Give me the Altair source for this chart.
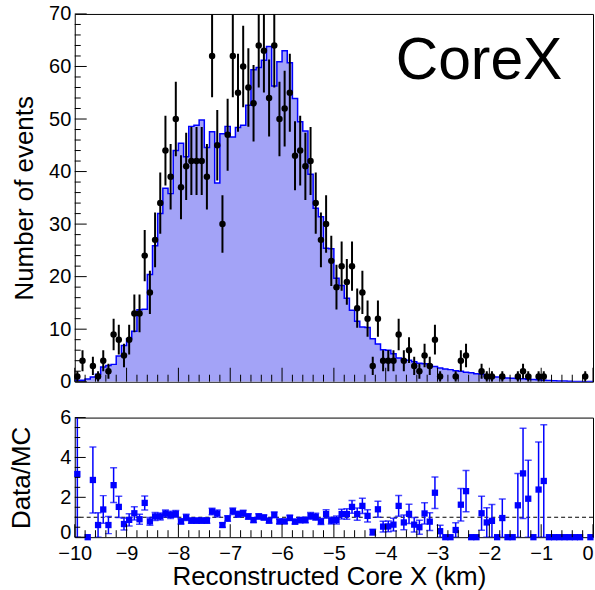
import altair as alt
import numpy as np
import pandas as pd

# 100 bins of 0.1 km between -10 and 0 km
X_MIN, X_MAX, N_BINS = -10.0, 0.0, 100
BIN_W = (X_MAX - X_MIN) / N_BINS
bin_centers = [round(X_MIN + BIN_W * (i + 0.5), 3) for i in range(N_BINS)]
bin_edges = [round(X_MIN + BIN_W * i, 3) for i in range(N_BINS + 1)]

# observed events per bin
data_counts = [
    1, 4, 0, 3, 1, 4, 2, 9, 8, 5,
    8, 13, 13, 24, 17, 27, 34, 44, 39, 50,
    37, 41, 42, 42, 42, 39, 62, 45, 30, 47,
    62, 55, 60, 56, 53, 64, 63, 54, 64, 50,
    52, 55, 43, 44, 41, 42, 34, 27, 30, 23,
    18, 22, 19, 22, 14, 17, 12, 3, 12, 4,
    4, 4, 9, 4, 6, 3, 2, 5, 3, 8,
    1, 0, 0, 1, 4, 5, 0, 0, 2, 1,
    1, 0, 1, 0, 0, 1, 2, 1, 0, 1,
    1, 0, 0, 0, 0, 0, 0, 0, 1, 0,
]

# simulated (MC) expectation per bin
mc_counts = [
    0.3, 0.3, 0.5, 0.9, 1.4, 2.8, 3.1, 3.3, 4.9, 6.9,
    8.2, 9.6, 13.7, 13.8, 20.4, 25.9, 32.0, 36.8, 35.8, 44.0,
    45.4, 42.8, 48.6, 48.8, 49.8, 44.6, 47.6, 37.8, 47.2, 48.6,
    46.6, 48.4, 48.8, 52.6, 59.4, 59.8, 61.2, 63.8, 56.3, 60.9,
    63.0, 60.7, 53.9, 49.5, 47.7, 39.5, 33.0, 31.4, 25.4, 25.3,
    19.7, 18.3, 15.9, 13.6, 11.5, 10.4, 10.3, 8.2, 7.2, 6.1,
    6.0, 5.3, 4.5, 4.2, 4.1, 3.8, 3.5, 3.4, 3.2, 2.9,
    2.6, 2.4, 2.3, 2.1, 2.0, 1.8, 1.7, 1.5, 1.4, 1.1,
    1.0, 0.9, 0.75, 0.7, 0.65, 0.6, 0.55, 0.45, 0.4, 0.35,
    0.3, 0.25, 0.2, 0.15, 0.12, 0.1, 0.06, 0.04, 0.0, 0.02,
]

# Data/MC ratio per bin (None where MC is empty)
ratio = [
    3.17, 13.3, 0, 2.87, 0.61, 1.39, 0.61, 2.61, 1.52, 0.66,
    0.87, 1.2, 0.9, 1.72, 0.79, 1.04, 1.04, 1.19, 1.12, 1.17,
    0.79, 0.99, 0.83, 0.83, 0.83, 0.83, 1.29, 1.19, 0.61, 0.94,
    1.3, 1.15, 1.2, 1.04, 0.86, 1.04, 0.99, 0.83, 1.12, 0.79,
    0.79, 0.97, 0.78, 0.86, 0.86, 1.07, 1.02, 0.79, 1.16, 0.83,
    0.86, 1.16, 1.16, 1.52, 1.16, 1.57, 1.07, 0.25, 1.4, 0.53,
    0.54, 0.63, 1.57, 0.74, 1.17, 0.63, 0.5, 1.19, 0.78, 2.23,
    0.3, 0, 0, 0.36, 1.63, 2.31, 0, 0, 1.2, 0.74,
    0.82, 0, 0.96, 0, 0, 1.6, 3.2, 1.93, 0, 2.39,
    2.82, 0, 0, 0, 0, 0, 0, 0, None, 0,
]

# axis tick positions
x_major = list(range(-10, 1))
x_minor = [round(X_MIN + 0.2 * k, 1) for k in range(51) if k % 5 != 0]
y_top_major = list(range(0, 71, 10))
y_top_minor = [v for v in range(0, 71, 2) if v % 10 != 0]
y_bot_major = [0, 2, 4, 6]
y_bot_minor = [v / 2 for v in range(0, 13) if v % 4 != 0]

FONT = "Liberation Sans"
W, H_TOP, H_BOT = 520, 369, 120
FILL = "#a3a3f7"
BLUE = "#0000ff"

xscale = alt.Scale(domain=[X_MIN, X_MAX], nice=False, zero=False)
ytop = alt.Scale(domain=[0, 70], nice=False, zero=False)
ybot = alt.Scale(domain=[0, 6], nice=False, zero=False)

LABEL_AXIS = dict(
    labelFontSize=20,
    titleFontSize=26,
    titleFontWeight="normal",
    ticks=False,
    tickSize=0,
    domain=False,
    grid=False,
)
ax_y_top = alt.Axis(
    values=y_top_major, title="Number of events", titlePadding=11, labelPadding=4, **LABEL_AXIS
)
ax_y_bot = alt.Axis(
    values=y_bot_major,
    title="Data/MC",
    titlePadding=25,
    labelPadding=4,
    labelOffset={"condition": {"test": "datum.value == 0", "value": -5}, "value": 0},
    **LABEL_AXIS,
)
ax_x_bot = alt.Axis(
    values=x_major,
    title="Reconstructed Core X (km)",
    titlePadding=0,
    titleX=255,
    labelPadding=6,
    labelFlush=False,
    labelAlign={"condition": {"test": "datum.value == 0", "value": "right"}, "value": "center"},
    **LABEL_AXIS,
)


# every layer of a panel shares the same axis definitions
def xt(field):
    return alt.X(field, type="quantitative", scale=xscale, axis=None)


def yt(field):
    return alt.Y(field, type="quantitative", scale=ytop, axis=ax_y_top)


def xb(field):
    return alt.X(field, type="quantitative", scale=xscale, axis=ax_x_bot)


def yb(field):
    return alt.Y(field, type="quantitative", scale=ybot, axis=ax_y_bot)


# ---------- tables ----------
hist_df = pd.DataFrame({"edge": bin_edges, "mc": mc_counts + [mc_counts[-1]]})

obs = pd.DataFrame({"x": bin_centers, "n": data_counts})
obs["err"] = np.sqrt(obs["n"])
obs["lo"] = obs["n"] - obs["err"]
obs["hi"] = obs["n"] + obs["err"]
obs = obs[obs["n"] > 0]

rat = pd.DataFrame({"x": bin_centers, "r": ratio, "n": data_counts})
rat = rat[rat["r"].notna()].copy()
rat["r"] = rat["r"].astype(float)
rat["err"] = [r / np.sqrt(n) if n > 0 else 0.0 for r, n in zip(rat["r"], rat["n"])]
rat["lo"] = rat["r"] - rat["err"]
rat["hi"] = rat["r"] + rat["err"]
rat_bars = rat[rat["err"] > 0]
rat_pts = rat[rat["r"] <= 6]


def x_ticks(values, length, height, xenc):
    return alt.Chart(pd.DataFrame({"t": values})).mark_rule(
        color="black", strokeWidth=1
    ).encode(x=xenc("t"), y=alt.value(height), y2=alt.value(height - length))


def y_ticks(values, length, yenc):
    return alt.Chart(pd.DataFrame({"t": values})).mark_rule(
        color="black", strokeWidth=1
    ).encode(y=yenc("t"), x=alt.value(0), x2=alt.value(length))


# ---------- upper panel: event counts ----------
mc_fill = alt.Chart(hist_df).mark_area(
    interpolate="step-after", color=FILL, opacity=1, clip=True
).encode(x=xt("edge"), y=yt("mc"))

mc_line = alt.Chart(hist_df).mark_line(
    interpolate="step-after", color=BLUE, strokeWidth=1.5, clip=True
).encode(x=xt("edge"), y=yt("mc"))

obs_bars = alt.Chart(obs).mark_rule(color="black", strokeWidth=2, clip=True).encode(
    x=xt("x"), y=yt("lo"), y2="hi:Q"
)

obs_pts = alt.Chart(obs).mark_circle(color="black", size=42, opacity=1).encode(
    x=xt("x"), y=yt("n")
)

label = alt.Chart(pd.DataFrame({"t": ["CoreX"]})).mark_text(
    align="left", baseline="alphabetic", fontSize=59, font=FONT, color="black"
).encode(text="t:N", x=alt.value(322), y=alt.value(65))

top = alt.layer(
    mc_fill,
    mc_line,
    obs_bars,
    obs_pts,
    x_ticks(x_major, 14, H_TOP, xt),
    x_ticks(x_minor, 7, H_TOP, xt),
    y_ticks(y_top_major, 12, yt),
    y_ticks(y_top_minor, 6, yt),
    label,
).properties(width=W, height=H_TOP)

# ---------- lower panel: Data/MC ----------
unity = alt.Chart(pd.DataFrame({"one": [1.0]})).mark_rule(
    color="black", strokeWidth=1, strokeDash=[4, 3]
).encode(y=yb("one"))

r_bars = alt.Chart(rat_bars).mark_rule(color=BLUE, strokeWidth=1.5, clip=True).encode(
    x=xb("x"), y=yb("lo"), y2="hi:Q"
)

r_cap_lo = alt.Chart(rat_bars).mark_tick(
    color=BLUE, orient="horizontal", size=7, thickness=1.5, clip=True
).encode(x=xb("x"), y=yb("lo"))

r_cap_hi = alt.Chart(rat_bars).mark_tick(
    color=BLUE, orient="horizontal", size=7, thickness=1.5, clip=True
).encode(x=xb("x"), y=yb("hi"))

r_pts = alt.Chart(rat_pts).mark_square(color=BLUE, size=40, opacity=1).encode(
    x=xb("x"), y=yb("r")
)

bottom = alt.layer(
    unity,
    r_bars,
    r_cap_lo,
    r_cap_hi,
    r_pts,
    x_ticks(x_major, 13, H_BOT, xb),
    x_ticks(x_minor, 7, H_BOT, xb),
    y_ticks(y_bot_major, 11, yb),
    y_ticks(y_bot_minor, 5.5, yb),
).properties(width=W, height=H_BOT)

chart = (
    alt.vconcat(top, bottom, spacing=14)
    .properties(padding={"left": 8, "top": 2, "right": 0, "bottom": 0}, background="white")
    .configure(font=FONT)
    .configure_axis(labelFont=FONT, titleFont=FONT, labelColor="black", titleColor="black")
    .configure_view(stroke="black", strokeWidth=1)
)

chart.save("out.html", embed_options={"renderer": "svg", "actions": False})
